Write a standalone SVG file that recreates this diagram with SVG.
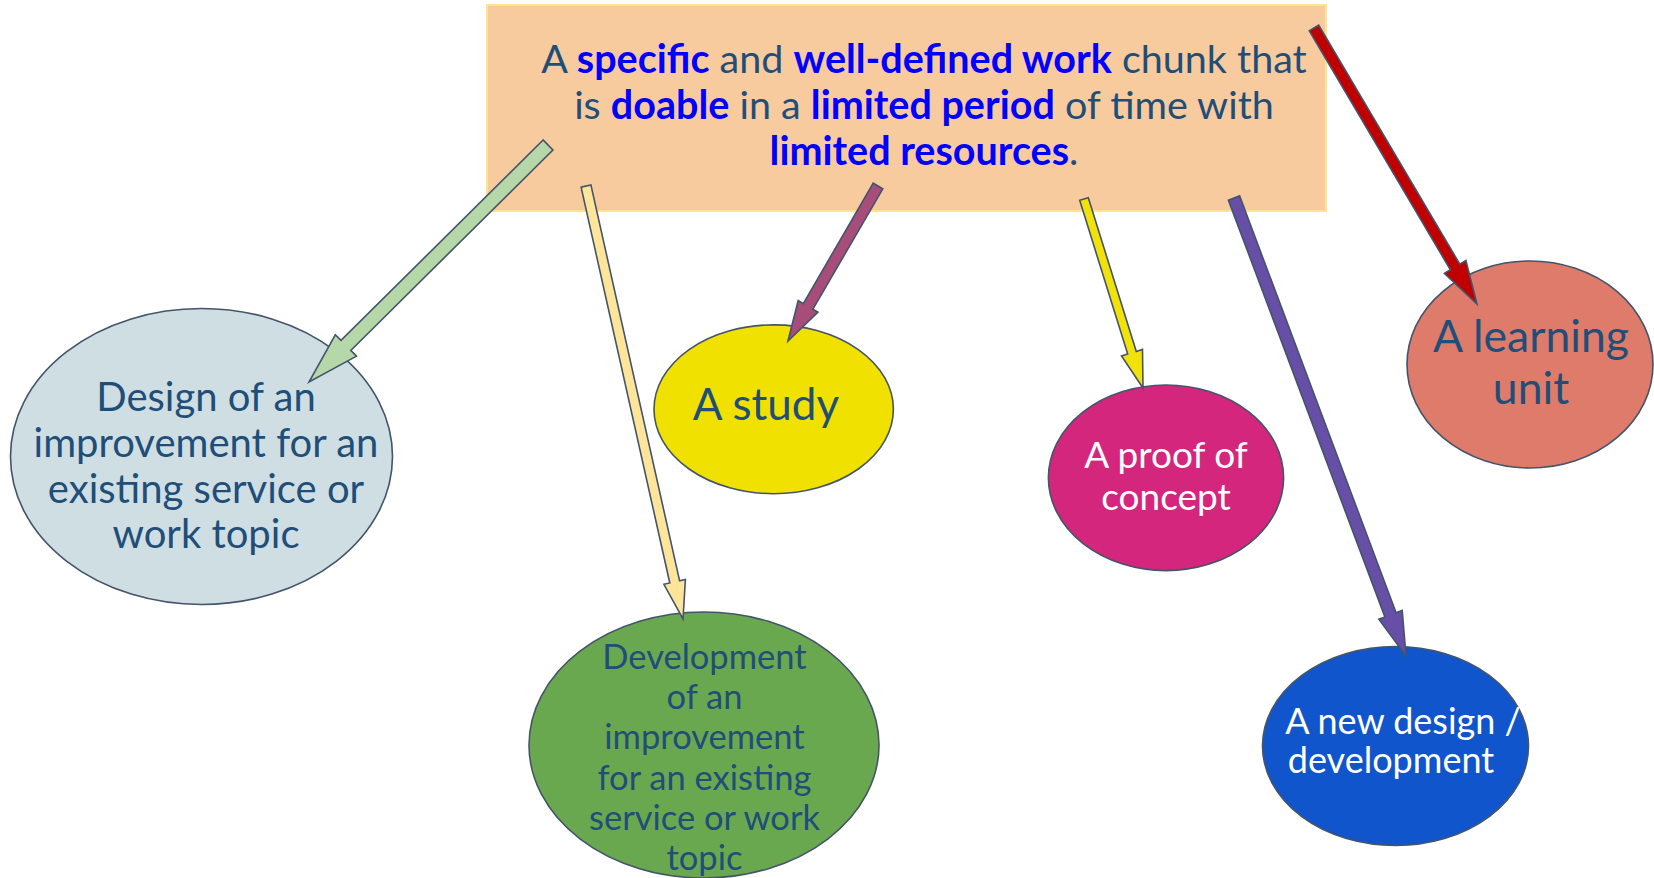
<svg xmlns="http://www.w3.org/2000/svg" width="1654" height="878" viewBox="0 0 1654 878">
<style>
.t{font-family:Lato,"Open Sans","Liberation Sans",sans-serif;fill:#1F4E79;text-anchor:middle}
.w{fill:#FFFFFF}
.b{font-weight:bold;fill:#0000FF}
.el{stroke:#44546A;stroke-width:1.6}
.ar{stroke:#44546A;stroke-width:1.6;stroke-linejoin:miter}
</style>
<rect width="1654" height="878" fill="#FFFFFF"/>
<g id="main">
<rect x="487" y="5" width="839" height="206" fill="#F8CB9E" stroke="#FFE38F" stroke-width="2"/>
<text class="t" font-size="39.5" x="924" y="73">A <tspan class="b">specific</tspan> and <tspan class="b">well-defined work</tspan> chunk that</text>
<text class="t" font-size="39.5" x="924" y="119">is <tspan class="b">doable</tspan> in a <tspan class="b">limited period</tspan> of time with</text>
<text class="t" font-size="39.5" x="924" y="165"><tspan class="b">limited resources</tspan>.</text>
</g>
<g id="design">
<ellipse class="el" cx="201.5" cy="456.5" rx="191" ry="148" fill="#CFDEE3"/>
<text class="t" font-size="40"><tspan x="206" y="411">Design of an</tspan><tspan x="206" y="457">improvement for an</tspan><tspan x="206" y="503">existing service or</tspan><tspan x="206" y="548">work topic</tspan></text>
</g>
<g id="study">
<ellipse class="el" cx="773.7" cy="409.3" rx="119.7" ry="84.4" fill="#F1E100"/>
<text class="t" font-size="44" x="766" y="420">A study</text>
</g>
<g id="proof">
<ellipse class="el" cx="1166" cy="477.8" rx="117.6" ry="92.8" fill="#D4267D"/>
<text class="t w" font-size="37"><tspan x="1166" y="468">A proof of</tspan><tspan x="1166" y="510">concept</tspan></text>
</g>
<g id="learning">
<ellipse class="el" cx="1530" cy="364.5" rx="123" ry="103.5" fill="#DE7B6A"/>
<text class="t" font-size="44.5"><tspan x="1531" y="352">A learning</tspan><tspan x="1531" y="404">unit</tspan></text>
</g>
<g id="development">
<ellipse class="el" cx="704" cy="745" rx="175" ry="133" fill="#6AA84F"/>
<text class="t" font-size="34.5"><tspan x="704.5" y="669">Development</tspan><tspan x="704.5" y="709">of an</tspan><tspan x="704.5" y="749">improvement</tspan><tspan x="704.5" y="790">for an existing</tspan><tspan x="704.5" y="830">service or work</tspan><tspan x="704.5" y="870">topic</tspan></text>
</g>
<g id="newdesign">
<ellipse class="el" cx="1395.5" cy="746" rx="133" ry="99.5" fill="#1155CC"/>
<text class="t w" font-size="36"><tspan x="1403" y="734">A new design /</tspan><tspan x="1391" y="773">development</tspan></text>
</g>
<g id="connectors">
<polygon class="ar" fill="#B6D7A8" points="543.1,140 341,340.4 335.3,334.8 309,382 356.5,356.1 350.8,350.4 552.9,150"/>
<polygon class="ar" fill="#FFE599" points="581.1,187.1 669.8,583 663.9,584.3 683,619 685.4,579.5 679.6,580.8 590.9,184.9"/>
<polygon class="ar" fill="#A64D79" points="873.2,183.2 803.3,303.6 798.2,300.6 788,341 818,312.2 812.9,309.2 882.8,188.8"/>
<polygon class="ar" fill="#F1E20B" points="1079.7,200.3 1127.7,354 1121.5,356 1143,388 1142.5,349.4 1136.3,351.4 1088.3,197.7"/>
<polygon class="ar" fill="#674EA7" points="1228.4,200.1 1384.9,616.9 1378.8,619.2 1406,656 1402.2,610.4 1396.1,612.7 1239.6,195.9"/>
<polygon class="ar" fill="#C00000" points="1309.3,30.8 1450.4,269.8 1444.4,273.4 1477,304 1465.9,260.6 1459.8,264.2 1318.7,25.2"/>
</g>
</svg>
